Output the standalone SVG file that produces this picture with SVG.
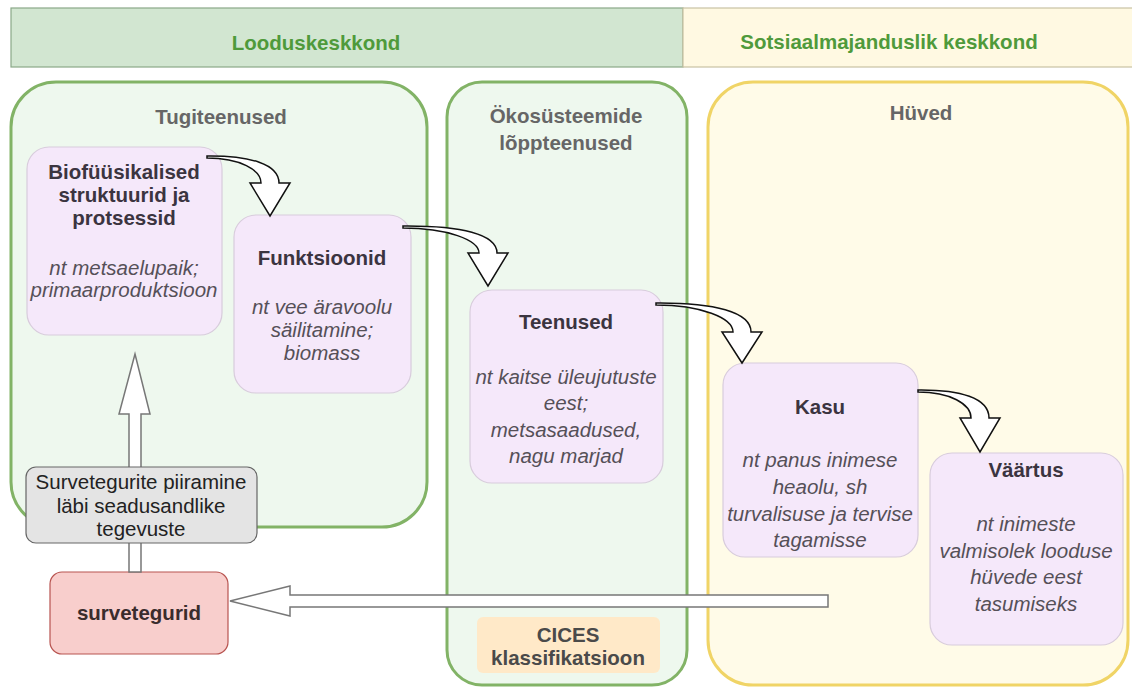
<svg xmlns="http://www.w3.org/2000/svg" width="1132" height="689" viewBox="0 0 1132 689">
<style>
.hdr{font-family:"Liberation Sans",Arial,sans-serif;font-size:20.5px;font-weight:bold;fill:#4f9a3b;text-anchor:middle}
.ctitle{font-family:"Liberation Sans",Arial,sans-serif;font-size:20.5px;font-weight:bold;fill:#666666;text-anchor:middle}
.ntitle{font-family:"Liberation Sans",Arial,sans-serif;font-size:20.5px;font-weight:bold;fill:#3b3440;text-anchor:middle}
.ital{font-family:"Liberation Sans",Arial,sans-serif;font-size:20.5px;font-style:italic;fill:#555058;text-anchor:middle}
.reg{font-family:"Liberation Sans",Arial,sans-serif;font-size:20.5px;fill:#222222;text-anchor:middle}
.node{fill:#f5e8fa;stroke:#d8ccdc;stroke-width:1.2}
.gcont{fill:#eef8ee;stroke:#82b366;stroke-width:3}
.ycont{fill:#fffbe8;stroke:#f0d466;stroke-width:3}
.curve{fill:#ffffff;stroke:#111111;stroke-width:1.5;stroke-linejoin:miter}
.block{fill:#ffffff;stroke:#777777;stroke-width:1.5}
</style>
<rect x="0" y="0" width="1132" height="689" fill="#ffffff"/>
<g id="header-loodus">
<rect x="11" y="8" width="672" height="59" fill="#d2e6d1" stroke="#8aa888" stroke-width="1.2"/>
<text class="hdr" x="316" y="50">Looduskeskkond</text>
</g>
<g id="header-sotsiaal">
<rect x="683" y="8" width="460" height="59" fill="#fff9e2" stroke="#c9c2a4" stroke-width="1.2"/>
<text class="hdr" x="889" y="49">Sotsiaalmajanduslik keskkond</text>
</g>
<g id="tugiteenused">
<rect class="gcont" x="11" y="82" width="416" height="445" rx="45"/>
<text class="ctitle" x="221" y="124">Tugiteenused</text>
</g>
<g id="lopteenused">
<rect class="gcont" x="447" y="82" width="240" height="603" rx="35"/>
<text class="ctitle" x="566" y="123">Ökosüsteemide</text>
<text class="ctitle" x="566" y="150">lõppteenused</text>
</g>
<g id="huved">
<rect class="ycont" x="708" y="82" width="420" height="603" rx="45"/>
<text class="ctitle" x="921" y="120">Hüved</text>
</g>
<g id="biofuusikalised">
<rect class="node" x="27" y="147" width="195" height="188" rx="22"/>
<text class="ntitle" x="124" y="179">Biofüüsikalised</text>
<text class="ntitle" x="124" y="202">struktuurid ja</text>
<text class="ntitle" x="124" y="225">protsessid</text>
<text class="ital" x="124" y="275">nt metsaelupaik;</text>
<text class="ital" x="124" y="297">primaarproduktsioon</text>
</g>
<g id="funktsioonid">
<rect class="node" x="234" y="215" width="177" height="178" rx="22"/>
<text class="ntitle" x="322" y="265">Funktsioonid</text>
<text class="ital" x="322" y="314">nt vee äravoolu</text>
<text class="ital" x="322" y="337">säilitamine;</text>
<text class="ital" x="322" y="360">biomass</text>
</g>
<g id="teenused">
<rect class="node" x="470" y="290" width="193" height="193" rx="22"/>
<text class="ntitle" x="566" y="329">Teenused</text>
<text class="ital" x="566" y="384">nt kaitse üleujutuste</text>
<text class="ital" x="566" y="410">eest;</text>
<text class="ital" x="566" y="437">metsasaadused,</text>
<text class="ital" x="566" y="463">nagu marjad</text>
</g>
<g id="kasu">
<rect class="node" x="723" y="363" width="195" height="194" rx="22"/>
<text class="ntitle" x="820" y="414">Kasu</text>
<text class="ital" x="820" y="467">nt panus inimese</text>
<text class="ital" x="820" y="494">heaolu, sh</text>
<text class="ital" x="820" y="521">turvalisuse ja tervise</text>
<text class="ital" x="820" y="547">tagamisse</text>
</g>
<g id="vaartus">
<rect class="node" x="930" y="453" width="193" height="192" rx="22"/>
<text class="ntitle" x="1026" y="477">Väärtus</text>
<text class="ital" x="1026" y="531">nt inimeste</text>
<text class="ital" x="1026" y="558">valmisolek looduse</text>
<text class="ital" x="1026" y="584">hüvede eest</text>
<text class="ital" x="1026" y="611">tasumiseks</text>
</g>
<g id="cices">
<rect x="477" y="617" width="183" height="56" rx="6" fill="#ffe9c8"/>
<text class="ctitle" x="568" y="642" style="fill:#4a4a4a">CICES</text>
<text class="ctitle" x="568" y="665" style="fill:#4a4a4a">klassifikatsioon</text>
</g>
<g id="surveteegurid">
<rect x="50" y="572" width="178" height="82" rx="12" fill="#f8cecc" stroke="#b85450" stroke-width="1.2"/>
<text class="ntitle" x="139" y="620" style="fill:#3a2c2c">survetegurid</text>
</g>
<g id="connectors">
<path class="curve" d="M207,156 C250,155.5 279,164 279,183 L290,183 L270,216 L250,183 L261,183 C261,170 240,158 207,158 Z"/>
<path class="curve" d="M403,226 C461,225.5 497,234 497,253 L508,253 L488,286 L468,253 L479,253 C479,240 447,228 403,228 Z"/>
<path class="curve" d="M656,303 C714,302.5 751,312 751,332 L762,332 L742,363 L722,332 L733,332 C733,318 701,305 656,305 Z"/>
<path class="curve" d="M918,390 C960,389.5 989,398 989,418 L1000,418 L980,452 L960,418 L971,418 C971,404 950,392 918,392 Z"/>
<path class="block" d="M129,572 L129,414 L119,414 L135,354 L150,414 L141,414 L141,572 Z"/>
<path class="block" d="M828,595 L290,595 L290,586 L230,601 L290,616 L290,607 L828,607 Z"/>
</g>
<g id="piiramine">
<rect x="26" y="467" width="231" height="76" rx="10" fill="#e4e4e4" stroke="#666666" stroke-width="1.2"/>
<text class="reg" x="141" y="489">Survetegurite piiramine</text>
<text class="reg" x="141" y="513">läbi seadusandlike</text>
<text class="reg" x="141" y="536">tegevuste</text>
</g>
</svg>
